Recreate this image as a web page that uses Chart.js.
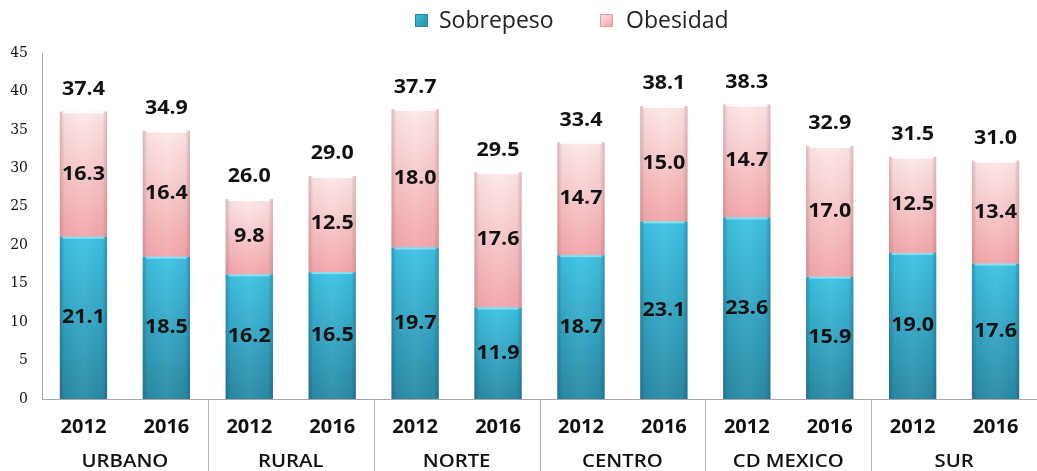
<!DOCTYPE html>
<html>
<head>
<meta charset="utf-8">
<script src="https://cdn.jsdelivr.net/npm/chart.js@4"></script>
<style>
	html, body { margin: 0; padding: 0; background: #fff; }
	#wrap { width: 1037px; height: 471px; }
</style>
</head>
<body>
<div id="wrap"><canvas id="myChart"></canvas></div>
<script>
const regiones = ['URBANO', 'RURAL', 'NORTE', 'CENTRO', 'CD MEXICO', 'SUR'];
const anios = ['2012', '2016', '2012', '2016', '2012', '2016', '2012', '2016', '2012', '2016', '2012', '2016'];
const sobrepeso = [21.1, 18.5, 16.2, 16.5, 19.7, 11.9, 18.7, 23.1, 23.6, 15.9, 19.0, 17.6];
const obesidad = [16.3, 16.4, 9.8, 12.5, 18.0, 17.6, 14.7, 15.0, 14.7, 17.0, 12.5, 13.4];
const totales = [37.4, 34.9, 26.0, 29.0, 37.7, 29.5, 33.4, 38.1, 38.3, 32.9, 31.5, 31.0];
const yTicks = [0, 5, 10, 15, 20, 25, 30, 35, 40, 45];

const labelFont = 'bold 19px "Open Sans"';

// degradado vertical por barra
const degradado = (ctx, abajo, arriba, base, valor) => {
	const chart = ctx.chart;
	if (!chart.chartArea || !chart.scales.y) return abajo;
	const i = ctx.dataIndex;
	const y = chart.scales.y;
	const y0 = y.getPixelForValue(base[i] || 0);
	const y1 = y.getPixelForValue(valor[i]);
	if (!isFinite(y0) || !isFinite(y1) || y0 === y1) return abajo;
	const g = chart.ctx.createLinearGradient(0, y0, 0, y1);
	g.addColorStop(0, abajo);
	g.addColorStop(1, arriba);
	return g;
};

const base0 = sobrepeso.map(() => 0);

const cuadro = (c, x, y, w, col1, col2, borde) => {
	const g = c.createLinearGradient(x, y, x + w, y + w);
	g.addColorStop(0, col1);
	g.addColorStop(1, col2);
	c.fillStyle = g;
	c.fillRect(x, y, w, w);
	c.strokeStyle = borde;
	c.lineWidth = 1;
	c.strokeRect(x + 0.5, y + 0.5, w - 1, w - 1);
};

// texto algo ensanchado, como en el original
const texto = (c, t, x, y) => {
	c.save();
	c.translate(x, y);
	c.scale(1.13, 1);
	c.fillText(t, 0, 0);
	c.restore();
};

const cilindro = {
	id: 'cilindro',
	afterDatasetsDraw(chart) {
		const c = chart.ctx;
		// sombreado horizontal de cada barra
		chart.data.datasets.forEach((ds, di) => {
			chart.getDatasetMeta(di).data.forEach((el) => {
				const p = el.getProps(['x', 'y', 'base', 'width'], true);
				const l = p.x - p.width / 2;
				const g = c.createLinearGradient(l, 0, l + p.width, 0);
				const sombra = di === 0 ? '20,60,80' : '150,90,95';
				g.addColorStop(0, 'rgba(' + sombra + ',0.35)');
				g.addColorStop(0.1, 'rgba(' + sombra + ',0.05)');
				g.addColorStop(0.5, 'rgba(255,255,255,0.05)');
				g.addColorStop(0.9, 'rgba(' + sombra + ',0.05)');
				g.addColorStop(1, 'rgba(' + sombra + ',0.35)');
				c.save();
				c.fillStyle = g;
				c.fillRect(l, p.y, p.width, p.base - p.y);
				// brillo en la parte superior del segmento
				c.fillStyle = di === 0 ? 'rgba(150,230,245,0.8)' : 'rgba(255,255,255,0.9)';
				c.fillRect(l + 3, p.y, p.width - 6, 2);
				c.restore();
			});
		});
		// etiquetas de datos
		c.save();
		c.font = labelFont;
		c.fillStyle = '#111';
		c.textAlign = 'center';
		c.textBaseline = 'middle';
		chart.data.datasets.forEach((ds, di) => {
			chart.getDatasetMeta(di).data.forEach((el, i) => {
				const p = el.getProps(['x', 'y', 'base'], true);
				texto(c, ds.data[i].toFixed(1), p.x, (p.y + p.base) / 2);
				if (di === 1) texto(c, totales[i].toFixed(1), p.x, p.y - 22);
			});
		});
		c.restore();
	},
	afterDraw(chart) {
		const c = chart.ctx;
		const x = chart.scales.x;
		const top = chart.chartArea.bottom;
		c.save();
		// separadores y nombres de regiones
		c.strokeStyle = '#b5b5b5';
		c.lineWidth = 1;
		for (let k = 1; k < regiones.length; k++) {
			const px = Math.round((x.getPixelForValue(2 * k - 1) + x.getPixelForValue(2 * k)) / 2) + 0.5;
			c.beginPath();
			c.moveTo(px, top);
			c.lineTo(px, chart.height);
			c.stroke();
		}
		c.font = '600 18px "Open Sans"';
		c.fillStyle = '#111';
		c.textAlign = 'center';
		c.textBaseline = 'middle';
		regiones.forEach((r, k) => {
			const px = (x.getPixelForValue(2 * k) + x.getPixelForValue(2 * k + 1)) / 2;
			texto(c, r, px, top + 63);
		});
		// leyenda
		cuadro(c, 415, 14, 13, '#3ec2e4', '#2a8aa4', '#2a8aa4');
		cuadro(c, 600, 14, 13, '#fde6e6', '#f0a2a6', '#e49ca0');
		c.font = '23px "Open Sans"';
		c.fillStyle = '#222';
		c.textAlign = 'left';
		c.fillText(data.datasets[0].label, 439, 21);
		c.fillText(data.datasets[1].label, 626, 21);
		c.restore();
	},
};

const data = {
	labels: anios,
	datasets: [
		{
			label: 'Sobrepeso',
			data: sobrepeso,
			backgroundColor: (ctx) => degradado(ctx, '#2a8aa4', '#3ec2e4', base0, sobrepeso),
			borderWidth: 0,
			stack: 's',
		},
		{
			label: 'Obesidad',
			data: obesidad,
			backgroundColor: (ctx) => degradado(ctx, '#f2a6aa', '#fde8e8', sobrepeso, totales),
			borderWidth: 0,
			stack: 's',
		},
	],
};

const config = {
	type: 'bar',
	data: data,
	plugins: [cilindro],
	options: {
		responsive: true,
		maintainAspectRatio: false,
		animation: false,
		layout: { padding: { top: 53, right: 0, left: 0, bottom: 0 } },
		datasets: { bar: { categoryPercentage: 1, barPercentage: 0.57 } },
		plugins: {
			tooltip: { enabled: false },
			legend: { display: false },
		},
		scales: {
			x: {
				stacked: true,
				grid: { display: false },
				border: { display: true, color: '#a8a8a8' },
				ticks: { font: { family: 'Open Sans', size: 20, weight: 'bold' }, color: '#111', padding: 8, maxRotation: 0, autoSkip: false },
				afterFit: (s) => { s.height = 72; },
			},
			y: {
				stacked: true,
				min: 0,
				max: 45,
				grid: { display: false },
				border: { display: true, color: '#a8a8a8' },
				afterBuildTicks: (s) => { s.ticks = yTicks.map((v) => ({ value: v })); },
				ticks: { font: { family: 'DejaVu Serif', size: 14 }, color: '#111', padding: 6 },
				afterFit: (s) => { s.width = 42; },
			},
		},
	},
};

const myChart = new Chart(document.getElementById('myChart'), config);
</script>
</body>
</html>
